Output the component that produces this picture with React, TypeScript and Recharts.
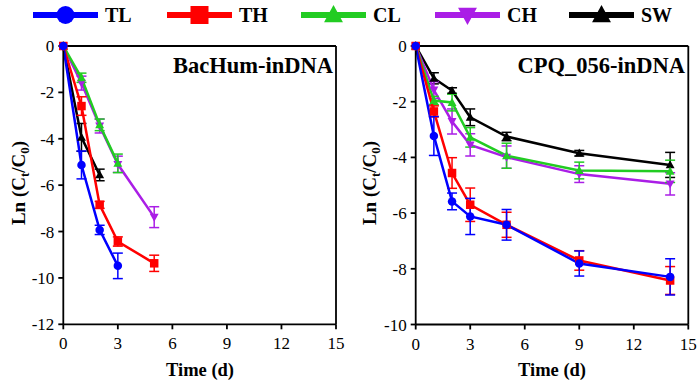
import React from 'react'
import {
  LineChart,
  Line,
  XAxis,
  YAxis,
  ErrorBar,
  ReferenceLine,
} from 'recharts'

const BAC_DAYS = [0, 1, 2, 3, 5]
const CPQ_DAYS = [0, 1, 2, 3, 5, 9, 14]
const X_TICKS = [0, 3, 6, 9, 12, 15]
const BAC_Y_TICKS = [0, -2, -4, -6, -8, -10, -12]
const CPQ_Y_TICKS = [0, -2, -4, -6, -8, -10]

// BacHum-inDNA
const bacTL = [0, -5.13, -7.93, -9.48]
const bacTLErr = [0, 0.6, 0.2, 0.55]
const bacTH = [0, -2.59, -6.85, -8.43, -9.37]
const bacTHErr = [0, 0.4, 0.15, 0.2, 0.35]
const bacCL = [0, -1.37, -3.4, -5.06]
const bacCLErr = [0, 0.2, 0.25, 0.4]
const bacCH = [0, -1.6, -3.45, -5.1, -7.38]
const bacCHErr = [0, 0.3, 0.3, 0.35, 0.45]
const bacSW = [0, -3.94, -5.56]
const bacSWErr = [0, 0.6, 0.25]

// CPQ_056-inDNA
const cpqTL = [0, -3.23, -5.58, -6.12, -6.42, -7.81, -8.29]
const cpqTLErr = [0, 0.7, 0.3, 0.65, 0.55, 0.45, 0.65]
const cpqTH = [0, -2.35, -4.56, -5.7, -6.42, -7.7, -8.42]
const cpqTHErr = [0, 0.2, 0.55, 0.6, 0.45, 0.35, 0.5]
const cpqCL = [0, -1.96, -2.03, -3.28, -3.94, -4.47, -4.5]
const cpqCLErr = [0, 0.15, 0.3, 0.35, 0.45, 0.3, 0.4]
const cpqCH = [0, -1.58, -2.71, -3.55, -3.99, -4.6, -4.95]
const cpqCHErr = [0, 0.3, 0.45, 0.4, 0.4, 0.3, 0.4]
const cpqSW = [0, -1.16, -1.6, -2.56, -3.25, -3.85, -4.27]
const cpqSWErr = [0, 0.2, 0.1, 0.3, 0.15, 0.1, 0.45]

const SERIES = [
  { name: 'TL', color: '#0000ff', shape: 'circle' },
  { name: 'TH', color: '#ff0000', shape: 'square' },
  { name: 'CL', color: '#22cc22', shape: 'up' },
  { name: 'CH', color: '#aa1ee6', shape: 'down' },
  { name: 'SW', color: '#000000', shape: 'up' },
]

const FONT = '"Liberation Serif", "Times New Roman", serif'

function build(days: number[], ys: number[], errs: number[]) {
  return ys.map((y, i) => ({ x: days[i], y, err: errs[i] }))
}

const bacData: Record<string, any[]> = {
  TL: build(BAC_DAYS, bacTL, bacTLErr),
  TH: build(BAC_DAYS, bacTH, bacTHErr),
  CL: build(BAC_DAYS, bacCL, bacCLErr),
  CH: build(BAC_DAYS, bacCH, bacCHErr),
  SW: build(BAC_DAYS, bacSW, bacSWErr),
}

const cpqData: Record<string, any[]> = {
  TL: build(CPQ_DAYS, cpqTL, cpqTLErr),
  TH: build(CPQ_DAYS, cpqTH, cpqTHErr),
  CL: build(CPQ_DAYS, cpqCL, cpqCLErr),
  CH: build(CPQ_DAYS, cpqCH, cpqCHErr),
  SW: build(CPQ_DAYS, cpqSW, cpqSWErr),
}

function Marker({ cx, cy, shape, color, size }: any) {
  const h = size / 2
  if (shape === 'circle') return <circle cx={cx} cy={cy} r={h} fill={color} />
  if (shape === 'square')
    return <rect x={cx - h} y={cy - h} width={size} height={size} fill={color} />
  if (shape === 'up')
    return (
      <polygon
        points={`${cx},${cy - h * 1.1} ${cx - h * 1.05},${cy + h * 0.8} ${cx + h * 1.05},${cy + h * 0.8}`}
        fill={color}
      />
    )
  return (
    <polygon
      points={`${cx},${cy + h * 1.1} ${cx - h * 1.05},${cy - h * 0.8} ${cx + h * 1.05},${cy - h * 0.8}`}
      fill={color}
    />
  )
}

const tickStyle = { fill: '#000', fontSize: 17, fontFamily: FONT }

function Panel({ data, yTicks, margin }: any) {
  const yMin = yTicks[yTicks.length - 1]
  // draw order: TL on top
  const order = ['SW', 'CH', 'CL', 'TH', 'TL']
  return (
    <LineChart width={350} height={382} margin={margin}>
      <XAxis
        type="number"
        dataKey="x"
        domain={[0, 15]}
        ticks={X_TICKS}
        tick={tickStyle}
        tickSize={5}
        tickMargin={8}
        height={30}
        stroke="#000"
        strokeWidth={1.8}
        allowDuplicatedCategory={false}
      />
      <YAxis
        type="number"
        domain={[yMin, 0]}
        ticks={yTicks}
        tick={tickStyle}
        tickSize={5}
        tickMargin={4}
        width={40}
        stroke="#000"
        strokeWidth={1.8}
        interval={0}
      />
      <ReferenceLine y={0} stroke="#000" strokeWidth={1.8} />
      <ReferenceLine x={15} stroke="#000" strokeWidth={1.8} />
      {order.map((name) => {
        const s = SERIES.find((d) => d.name === name)!
        return (
          <Line
            key={name}
            data={data[name]}
            dataKey="y"
            stroke={s.color}
            strokeWidth={2.5}
            isAnimationActive={false}
            dot={(p: any) => (
              <Marker key={`${name}-${p.index}`} cx={p.cx} cy={p.cy} shape={s.shape} color={s.color} size={8.5} />
            )}
            activeDot={false}
          >
            <ErrorBar dataKey="err" direction="y" width={5} stroke={s.color} strokeWidth={1.5} />
          </Line>
        )
      })}
    </LineChart>
  )
}

function YLabel({ x, y }: { x: number; y: number }) {
  return (
    <text
      x={x}
      y={y}
      transform={`rotate(-90 ${x} ${y})`}
      textAnchor="middle"
      fontFamily={FONT}
      fontWeight="bold"
      fontSize={19}
      fill="#000"
    >
      Ln (C
      <tspan fontSize={13} dy={4}>t</tspan>
      <tspan dy={-4}>/C</tspan>
      <tspan fontSize={13} dy={4}>0</tspan>
      <tspan dy={-4}>)</tspan>
    </text>
  )
}

export default function App() {
  return (
    <div style={{ position: 'absolute', left: 0, top: 0, width: 700, height: 382, background: '#fff' }}>
      <div style={{ position: 'absolute', left: 0, top: 0 }}>
        <Panel data={bacData} yTicks={BAC_Y_TICKS} margin={{ top: 46, right: 14, bottom: 27.7, left: 23.3 }} />
      </div>
      <div style={{ position: 'absolute', left: 350, top: 0 }}>
        <Panel data={cpqData} yTicks={CPQ_Y_TICKS} margin={{ top: 46, right: 11.7, bottom: 27.5, left: 25.7 }} />
      </div>
      <svg
        width={700}
        height={382}
        style={{ position: 'absolute', left: 0, top: 0, pointerEvents: 'none' }}
      >
        {SERIES.map((s, i) => {
          const x0 = 33 + 134 * i
          return (
            <g key={s.name}>
              <line x1={x0} y1={15} x2={x0 + 65} y2={15} stroke={s.color} strokeWidth={6} />
              <Marker cx={x0 + 32.5} cy={15} shape={s.shape} color={s.color} size={18} />
              <text x={x0 + 72} y={22} fontFamily={FONT} fontWeight="bold" fontSize={20} fill="#000">
                {s.name}
              </text>
            </g>
          )
        })}
        <text x={333} y={73} textAnchor="end" fontFamily={FONT} fontWeight="bold" fontSize={22.5} fill="#000">
          BacHum-inDNA
        </text>
        <text x={685} y={73} textAnchor="end" fontFamily={FONT} fontWeight="bold" fontSize={22.5} fill="#000">
          CPQ_056-inDNA
        </text>
        <YLabel x={25} y={183} />
        <YLabel x={376} y={183} />
        <text x={200} y={376} textAnchor="middle" fontFamily={FONT} fontWeight="bold" fontSize={18.5} fill="#000">
          Time (d)
        </text>
        <text x={552} y={376} textAnchor="middle" fontFamily={FONT} fontWeight="bold" fontSize={18.5} fill="#000">
          Time (d)
        </text>
      </svg>
    </div>
  )
}
